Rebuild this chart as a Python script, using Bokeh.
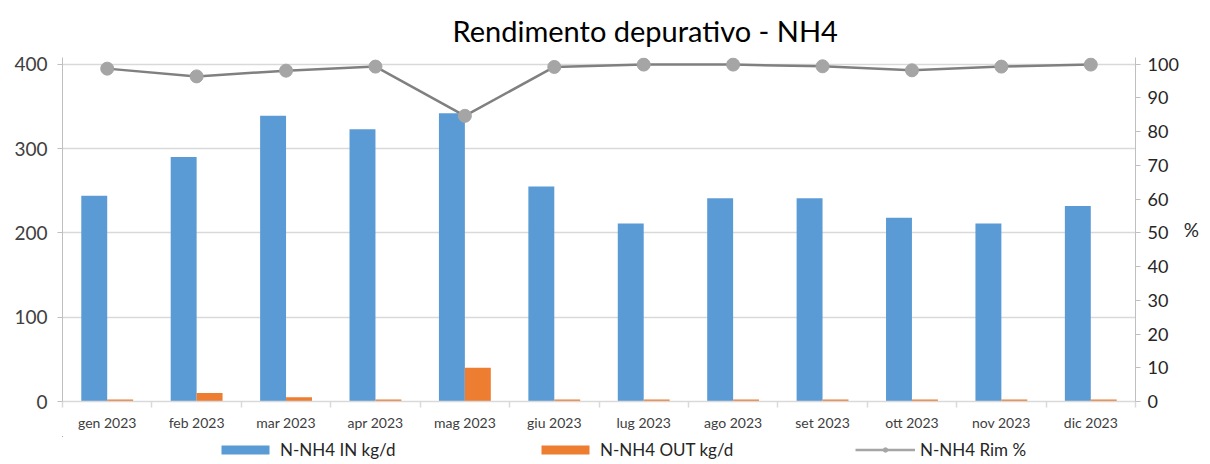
from bokeh.plotting import figure
from bokeh.models import (ColumnDataSource, Range1d, LinearAxis, FixedTicker,
                          Legend, LegendItem)
from bokeh.layouts import column
from bokeh.embed import file_html
from bokeh.resources import INLINE

months = ["gen 2023", "feb 2023", "mar 2023", "apr 2023", "mag 2023", "giu 2023",
          "lug 2023", "ago 2023", "set 2023", "ott 2023", "nov 2023", "dic 2023"]
nh4_in = [244, 290, 339, 323, 342, 255, 211, 241, 241, 218, 211, 232]
nh4_out = [2.5, 10, 5, 2.5, 40, 2.5, 2.5, 2.5, 2.5, 2.5, 2.5, 2.5]
rim_pct = [98.7, 96.4, 98.1, 99.3, 84.7, 99.2, 99.9, 99.9, 99.4, 98.2, 99.3, 99.9]
left_ticks = [0, 100, 200, 300, 400]
right_ticks = [0, 10, 20, 30, 40, 50, 60, 70, 80, 90, 100]
series_names = ["N-NH4 IN kg/d", "N-NH4 OUT kg/d", "N-NH4 Rim %"]

FONT = "Lato"
BLUE = "#5b9bd5"
ORANGE = "#ed7d31"
GRAY_LINE = "#808080"
GRAY_MARK = "#a5a5a5"
W = 1202

n = len(months)
centers = [i + 0.5 for i in range(n)]
bw = 0.29
src = ColumnDataSource(dict(
    xc=centers,
    x_in=[c - bw / 2 for c in centers],
    x_out=[c + bw / 2 for c in centers],
    nin=nh4_in, nout=nh4_out, rim=rim_pct,
))

p = figure(width=W, height=436, x_range=Range1d(0, n), y_range=Range1d(0, 408),
           output_backend="svg", toolbar_location=None,
           min_border_left=62, min_border_right=62, min_border_top=57, min_border_bottom=35,
           title="Rendimento depurativo - NH4")
p.outline_line_color = None
p.extra_y_ranges = {"pct": Range1d(0, 102)}

p.title.text_font = FONT
p.title.text_font_size = "29px"
p.title.text_font_style = "normal"
p.title.text_color = "#000000"
p.title.align = "left"
p.title.offset = 390
p.title.standoff = 20

# bars
p.vbar(x="x_in", top="nin", width=bw, source=src, fill_color=BLUE, line_color=None)
p.vbar(x="x_out", top="nout", width=bw, source=src, fill_color=ORANGE, line_color=None)
# line
p.line(x="xc", y="rim", source=src, y_range_name="pct", line_color=GRAY_LINE, line_width=2.5)
p.scatter(x="xc", y="rim", source=src, y_range_name="pct", size=13,
          fill_color=GRAY_MARK, line_color=GRAY_MARK)

# grid
p.xgrid.visible = False
p.ygrid.ticker = FixedTicker(ticks=left_ticks)
p.ygrid.grid_line_color = "#d9d9d9"
p.ygrid.grid_line_width = 1.5

# x axis
xa = p.xaxis[0]
xa.ticker = FixedTicker(ticks=centers, minor_ticks=list(range(n + 1)))
xa.major_label_overrides = {c: m for c, m in zip(centers, months)}
xa.major_tick_out = 0
xa.major_tick_in = 0
xa.minor_tick_out = 6
xa.minor_tick_in = 0
xa.minor_tick_line_color = "#d9d9d9"
xa.minor_tick_line_width = 1.5
xa.axis_line_color = "#d9d9d9"
xa.axis_line_width = 1.5
xa.major_label_text_font = FONT
xa.major_label_text_font_size = "14px"
xa.major_label_text_color = "#404040"
xa.major_label_standoff = 6

# left axis
ya = p.yaxis[0]
ya.ticker = FixedTicker(ticks=left_ticks)
ya.major_tick_out = 5
ya.major_tick_in = 0
ya.minor_tick_out = 0
ya.minor_tick_in = 0
ya.major_tick_line_color = "#bfbfbf"
ya.axis_line_color = "#bfbfbf"
ya.major_label_text_font = FONT
ya.major_label_text_font_size = "19px"
ya.major_label_text_color = "#404040"
ya.major_label_standoff = 10

# right axis
ra = LinearAxis(y_range_name="pct", ticker=FixedTicker(ticks=right_ticks), axis_label="%")
ra.major_tick_out = 5
ra.major_tick_in = 0
ra.minor_tick_out = 0
ra.minor_tick_in = 0
ra.major_tick_line_color = "#bfbfbf"
ra.axis_line_color = "#bfbfbf"
ra.major_label_text_font = FONT
ra.major_label_text_font_size = "18px"
ra.major_label_text_color = "#262626"
ra.major_label_standoff = 7
ra.axis_label_text_font = FONT
ra.axis_label_text_font_size = "19px"
ra.axis_label_text_font_style = "normal"
ra.axis_label_text_color = "#262626"
ra.axis_label_standoff = 2
if "axis_label_orientation" in ra.properties():
    ra.axis_label_orientation = "horizontal"
p.add_layout(ra, "right")

# legend strip: same series drawn into ranges where they fall outside the view,
# so only their legend glyphs show
lf = figure(width=W, height=24, x_range=Range1d(n + 10, n + 20), y_range=Range1d(-20, -19),
            output_backend="svg", toolbar_location=None, min_border=0,
            x_axis_location=None, y_axis_location=None)
lf.outline_line_color = None
lf.xgrid.visible = False
lf.ygrid.visible = False
l_in = lf.vbar(x="x_in", top="nin", width=bw, source=src, fill_color=BLUE, line_color=None)
l_out = lf.vbar(x="x_out", top="nout", width=bw, source=src, fill_color=ORANGE, line_color=None)
l_line = lf.line(x="xc", y="rim", source=src, line_color=GRAY_MARK, line_width=2.5)
l_mark = lf.scatter(x="xc", y="rim", source=src, size=13, fill_color=GRAY_MARK, line_color=GRAY_MARK)

legend = Legend(items=[
    LegendItem(label=series_names[0], renderers=[l_in]),
    LegendItem(label=series_names[1], renderers=[l_out]),
    LegendItem(label=series_names[2], renderers=[l_line, l_mark]),
], orientation="horizontal", location=(153, 0))
legend.label_text_font = FONT
legend.label_text_font_size = "17px"
legend.label_text_color = "#262626"
legend.glyph_width = 60
legend.glyph_height = 11
legend.spacing = 8
legend.label_width = 247
legend.label_standoff = 5
legend.border_line_color = None
legend.background_fill_alpha = 0
legend.padding = 0
legend.margin = 0
lf.add_layout(legend)

open("out.html", "w").write(file_html(column(p, lf, spacing=0), INLINE))
